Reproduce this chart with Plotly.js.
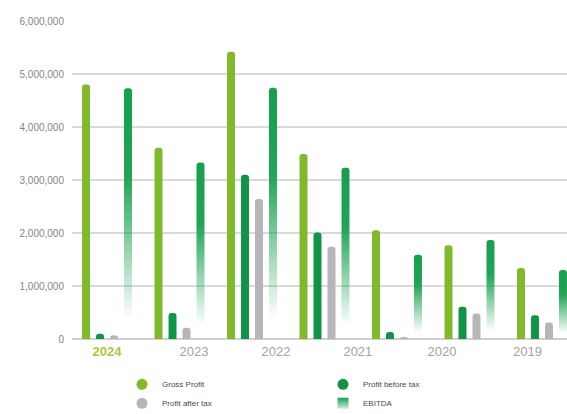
<!DOCTYPE html>
<html>
<head>
<meta charset="utf-8">
<script src="https://cdn.plot.ly/plotly-3.0.1.min.js"></script>
<style>
  html, body { margin: 0; padding: 0; background: #ffffff; }
  #chart { width: 567px; height: 414px; }
</style>
</head>
<body>
<div id="chart"></div>
<script>
// Bar groups (one per reporting block) and their values
const groupIndex = [0, 1, 2, 3, 4, 5, 6];
const grossProfit     = [4800000, 3610000, 5420000, 3490000, 2050000, 1770000, 1340000];
const profitBeforeTax = [100000, 490000, 3100000, 2010000, 130000, 610000, 450000];
const profitAfterTax  = [70000, 210000, 2640000, 1740000, 40000, 480000, 310000];
const ebitda          = [4730000, 3330000, 4740000, 3230000, 1590000, 1870000, 1300000];

// Year labels along the bottom axis
const yearLabels = ['2024', '2023', '2022', '2021', '2020', '2019'];
const yearLabelPos = [0, 1.2, 2.33, 3.46, 4.62, 5.8];

const seriesNames = ['Gross Profit', 'Profit before tax', 'Profit after tax', 'EBITDA'];
const seriesColors = ['#80b92a', '#109546', '#b6b6ba', '#15a04d'];

const yTicks = [0, 1000000, 2000000, 3000000, 4000000, 5000000, 6000000];

const barSeries = [grossProfit, profitBeforeTax, profitAfterTax, ebitda];

const traces = barSeries.map((vals, i) => ({
  type: 'bar',
  x: groupIndex,
  y: vals,
  name: seriesNames[i],
  marker: { color: seriesColors[i], cornerradius: 4, line: { width: 0 } },
  showlegend: false,
  hoverinfo: 'skip'
}));

// Legend entries: round swatches, and a shaded block for EBITDA
const legendSymbols = ['circle', 'circle', 'circle', 'square'];
seriesNames.forEach((name, i) => {
  const marker = { color: seriesColors[i], size: 11, symbol: legendSymbols[i], line: { width: 0 } };
  if (i === 3) marker.gradient = { type: 'vertical', color: '#cfeedd' };
  traces.push({
    type: 'scatter',
    mode: 'markers',
    x: [null],
    y: [null],
    name: name,
    marker: marker,
    showlegend: true,
    hoverinfo: 'skip'
  });
});

const tickText = yearLabels.map((y, i) =>
  i === 0 ? '<span style="color:#a9c93c"><b>' + y + '</b></span>' : y);

const layout = {
  width: 567,
  height: 414,
  margin: { l: 72, r: 0, t: 21, b: 75, autoexpand: false },
  paper_bgcolor: '#ffffff',
  plot_bgcolor: '#ffffff',
  barmode: 'group',
  bargap: 0.228,
  bargroupgap: 0.43,
  font: { family: 'Liberation Sans, Arial, sans-serif', color: '#8c8c8c' },
  xaxis: {
    range: [-0.483, 6.345],
    tickmode: 'array',
    tickvals: yearLabelPos,
    ticktext: tickText,
    showgrid: false,
    zeroline: false,
    showline: false,
    ticks: '',
    ticklabelstandoff: 3,
    tickfont: { size: 13, color: '#a3a3a3' },
    fixedrange: true
  },
  yaxis: {
    range: [0, 6000000],
    tickmode: 'array',
    tickvals: yTicks,
    tickformat: ',d',
    showgrid: true,
    gridcolor: '#d9d9d9',
    gridwidth: 1.5,
    zeroline: true,
    zerolinecolor: '#cfcfcf',
    zerolinewidth: 1.5,
    showline: false,
    ticks: '',
    ticklabelstandoff: 7,
    tickfont: { size: 10, color: '#858585' },
    fixedrange: true
  },
  showlegend: true,
  legend: {
    orientation: 'h',
    x: 0.101,
    xanchor: 'left',
    y: -0.097,
    yanchor: 'top',
    entrywidth: 156,
    entrywidthmode: 'pixels',
    font: { size: 8, color: '#4a4a4a' },
    bgcolor: 'rgba(0,0,0,0)',
    itemclick: false,
    itemdoubleclick: false
  }
};

Plotly.newPlot('chart', traces, layout, { displayModeBar: false, staticPlot: true }).then(gd => {
  // EBITDA bars fade from solid green at the top to white at the base
  const svg = gd.querySelector('svg.main-svg');
  const ns = 'http://www.w3.org/2000/svg';
  let defs = svg.querySelector('defs');
  if (!defs) { defs = document.createElementNS(ns, 'defs'); svg.insertBefore(defs, svg.firstChild); }
  const grad = document.createElementNS(ns, 'linearGradient');
  grad.setAttribute('id', 'ebitdaFade');
  grad.setAttribute('x1', '0'); grad.setAttribute('y1', '0');
  grad.setAttribute('x2', '0'); grad.setAttribute('y2', '1');
  [[0, 1], [0.35, 0.95], [0.92, 0]].forEach(([off, op]) => {
    const s = document.createElementNS(ns, 'stop');
    s.setAttribute('offset', off);
    s.setAttribute('stop-color', seriesColors[3]);
    s.setAttribute('stop-opacity', op);
    grad.appendChild(s);
  });
  defs.appendChild(grad);
  const barTraces = gd.querySelectorAll('.barlayer .trace');
  if (barTraces[3]) {
    barTraces[3].querySelectorAll('path').forEach(p => {
      p.style.fill = 'url(#ebitdaFade)';
    });
  }
});
</script>
</body>
</html>
